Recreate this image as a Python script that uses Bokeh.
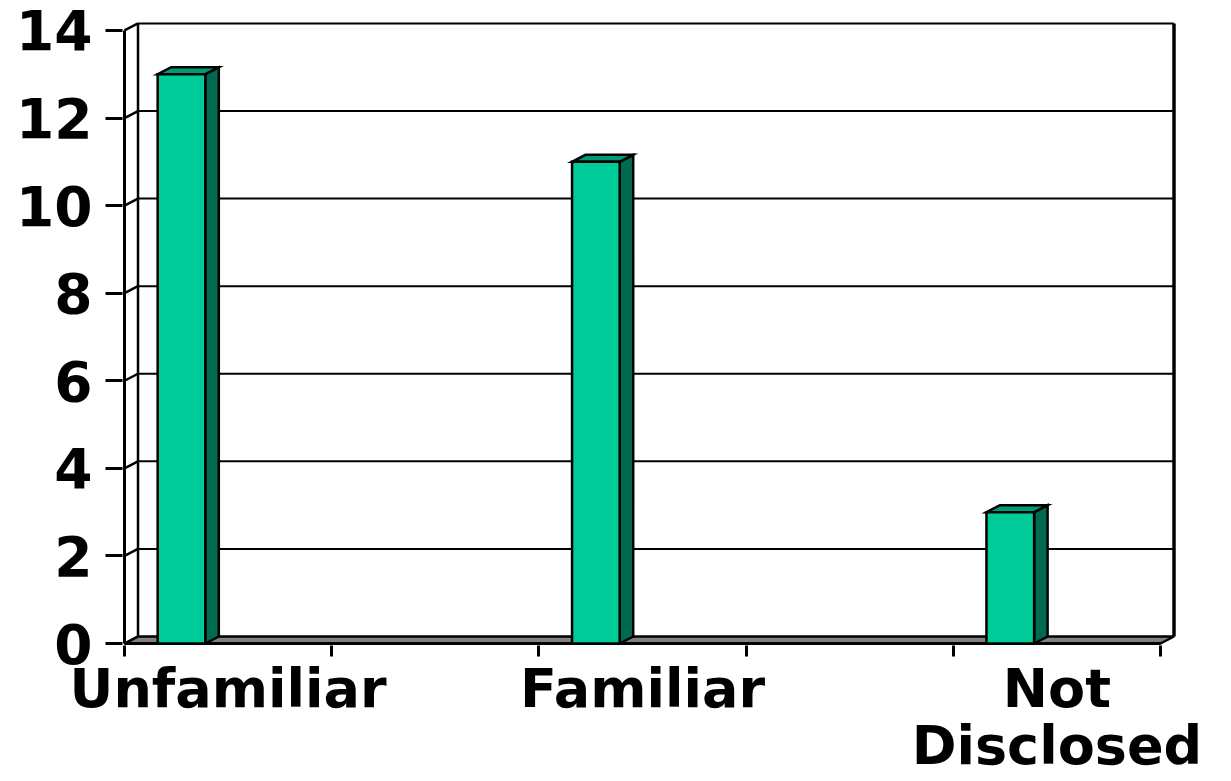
from bokeh.plotting import figure
from bokeh.models import Range1d, FixedTicker
from bokeh.embed import file_html
from bokeh.resources import INLINE

# ---- data ----
categories = ["Unfamiliar", "Familiar", "Not\nDisclosed"]
values = [13, 11, 3]
y_ticks = [0, 2, 4, 6, 8, 10, 12, 14]
slot_ticks = [0, 1, 2, 3, 4, 5]      # 5 category slots (two are blank)
slots = [0, 2, 4]                      # slot used by each category

# ---- geometry / style constants ----
PX_X = 207.2          # pixels per slot
PX_Y = 43.79          # pixels per value unit
DX = 13.5 / PX_X      # 3-D depth offset (x)
DY = 7.0 / PX_Y       # 3-D depth offset (y)
BAR_OFF = 0.16
BAR_W = 0.23
N_SLOTS = slot_ticks[-1]
TOP = y_ticks[-1]

FONT = "DejaVu Sans"

p = figure(width=1231, height=781, output_backend="svg", toolbar_location=None,
           x_range=Range1d(-2 / PX_X, (1182 - 124) / PX_X),
           y_range=Range1d(-2 / PX_Y, (643 - 20) / PX_Y),
           min_border_left=122, min_border_right=49,
           min_border_top=20, min_border_bottom=136)
p.outline_line_color = None
p.xgrid.visible = False
p.ygrid.visible = False
p.background_fill_color = "white"
p.border_fill_color = "white"

# y axis
ya = p.yaxis[0]
ya.ticker = FixedTicker(ticks=y_ticks)
ya.axis_line_color = None
ya.major_tick_out = 17
ya.major_tick_in = 0
ya.major_tick_line_width = 3
ya.major_tick_line_color = "black"
ya.minor_tick_line_color = None
ya.major_label_text_font = FONT
ya.major_label_text_font_style = "bold"
ya.major_label_text_font_size = "55px"
ya.major_label_text_color = "black"
ya.major_label_standoff = 13

# x axis: category names at slot centres, tick marks at slot borders
centers = [s + 0.5 for s in slots]
xa = p.xaxis[0]
xa.ticker = FixedTicker(ticks=centers, minor_ticks=slot_ticks)
xa.major_label_overrides = {c: name for c, name in zip(centers, categories)}
xa.axis_line_color = None
xa.major_tick_line_color = None
xa.major_tick_out = 0
xa.major_tick_in = 0
xa.minor_tick_out = 11
xa.minor_tick_in = 0
xa.minor_tick_line_width = 3
xa.minor_tick_line_color = "black"
xa.major_label_text_font = FONT
xa.major_label_text_font_style = "bold"
xa.major_label_text_font_size = "54px"
xa.major_label_text_color = "black"
xa.major_label_text_line_height = 0.92
xa.major_label_standoff = 0

LW = 2.5

# floor
p.patch([0, N_SLOTS, N_SLOTS + DX, DX], [0, 0, DY, DY],
        fill_color="#808080", line_color="black", line_width=LW)

# back wall gridlines
grid_vals = y_ticks[1:]
p.segment(x0=[DX] * len(grid_vals), y0=[v + DY for v in grid_vals],
          x1=[N_SLOTS + DX] * len(grid_vals), y1=[v + DY for v in grid_vals],
          line_color="black", line_width=2)
# back wall verticals
p.segment(x0=[DX, N_SLOTS + DX], y0=[DY, DY], x1=[DX, N_SLOTS + DX], y1=[TOP + DY, TOP + DY],
          line_color="black", line_width=[2.5, 3.5])
# left wall diagonals
p.segment(x0=[0] * len(y_ticks), y0=y_ticks, x1=[DX] * len(y_ticks), y1=[v + DY for v in y_ticks],
          line_color="black", line_width=2.5)
# front vertical and front floor edge
p.segment(x0=[0, 0], y0=[0, 0], x1=[0, N_SLOTS], y1=[TOP, 0],
          line_color="black", line_width=3)

# bars
lefts = [s + BAR_OFF for s in slots]
rights = [s + BAR_OFF + BAR_W for s in slots]
p.patches(xs=[[r, r + DX, r + DX, r] for r in rights],
          ys=[[0, DY, v + DY, v] for v in values],
          fill_color="#006A50", line_color="black", line_width=LW, line_join="miter")
p.patches(xs=[[l, r, r + DX, l + DX] for l, r in zip(lefts, rights)],
          ys=[[v, v, v + DY, v + DY] for v in values],
          fill_color="#009A74", line_color="black", line_width=LW, line_join="miter")
p.quad(left=lefts, right=rights, bottom=[0] * len(values), top=values,
       fill_color="#00CC99", line_color="black", line_width=LW, line_join="miter")

open("out.html", "w").write(file_html(p, INLINE))
